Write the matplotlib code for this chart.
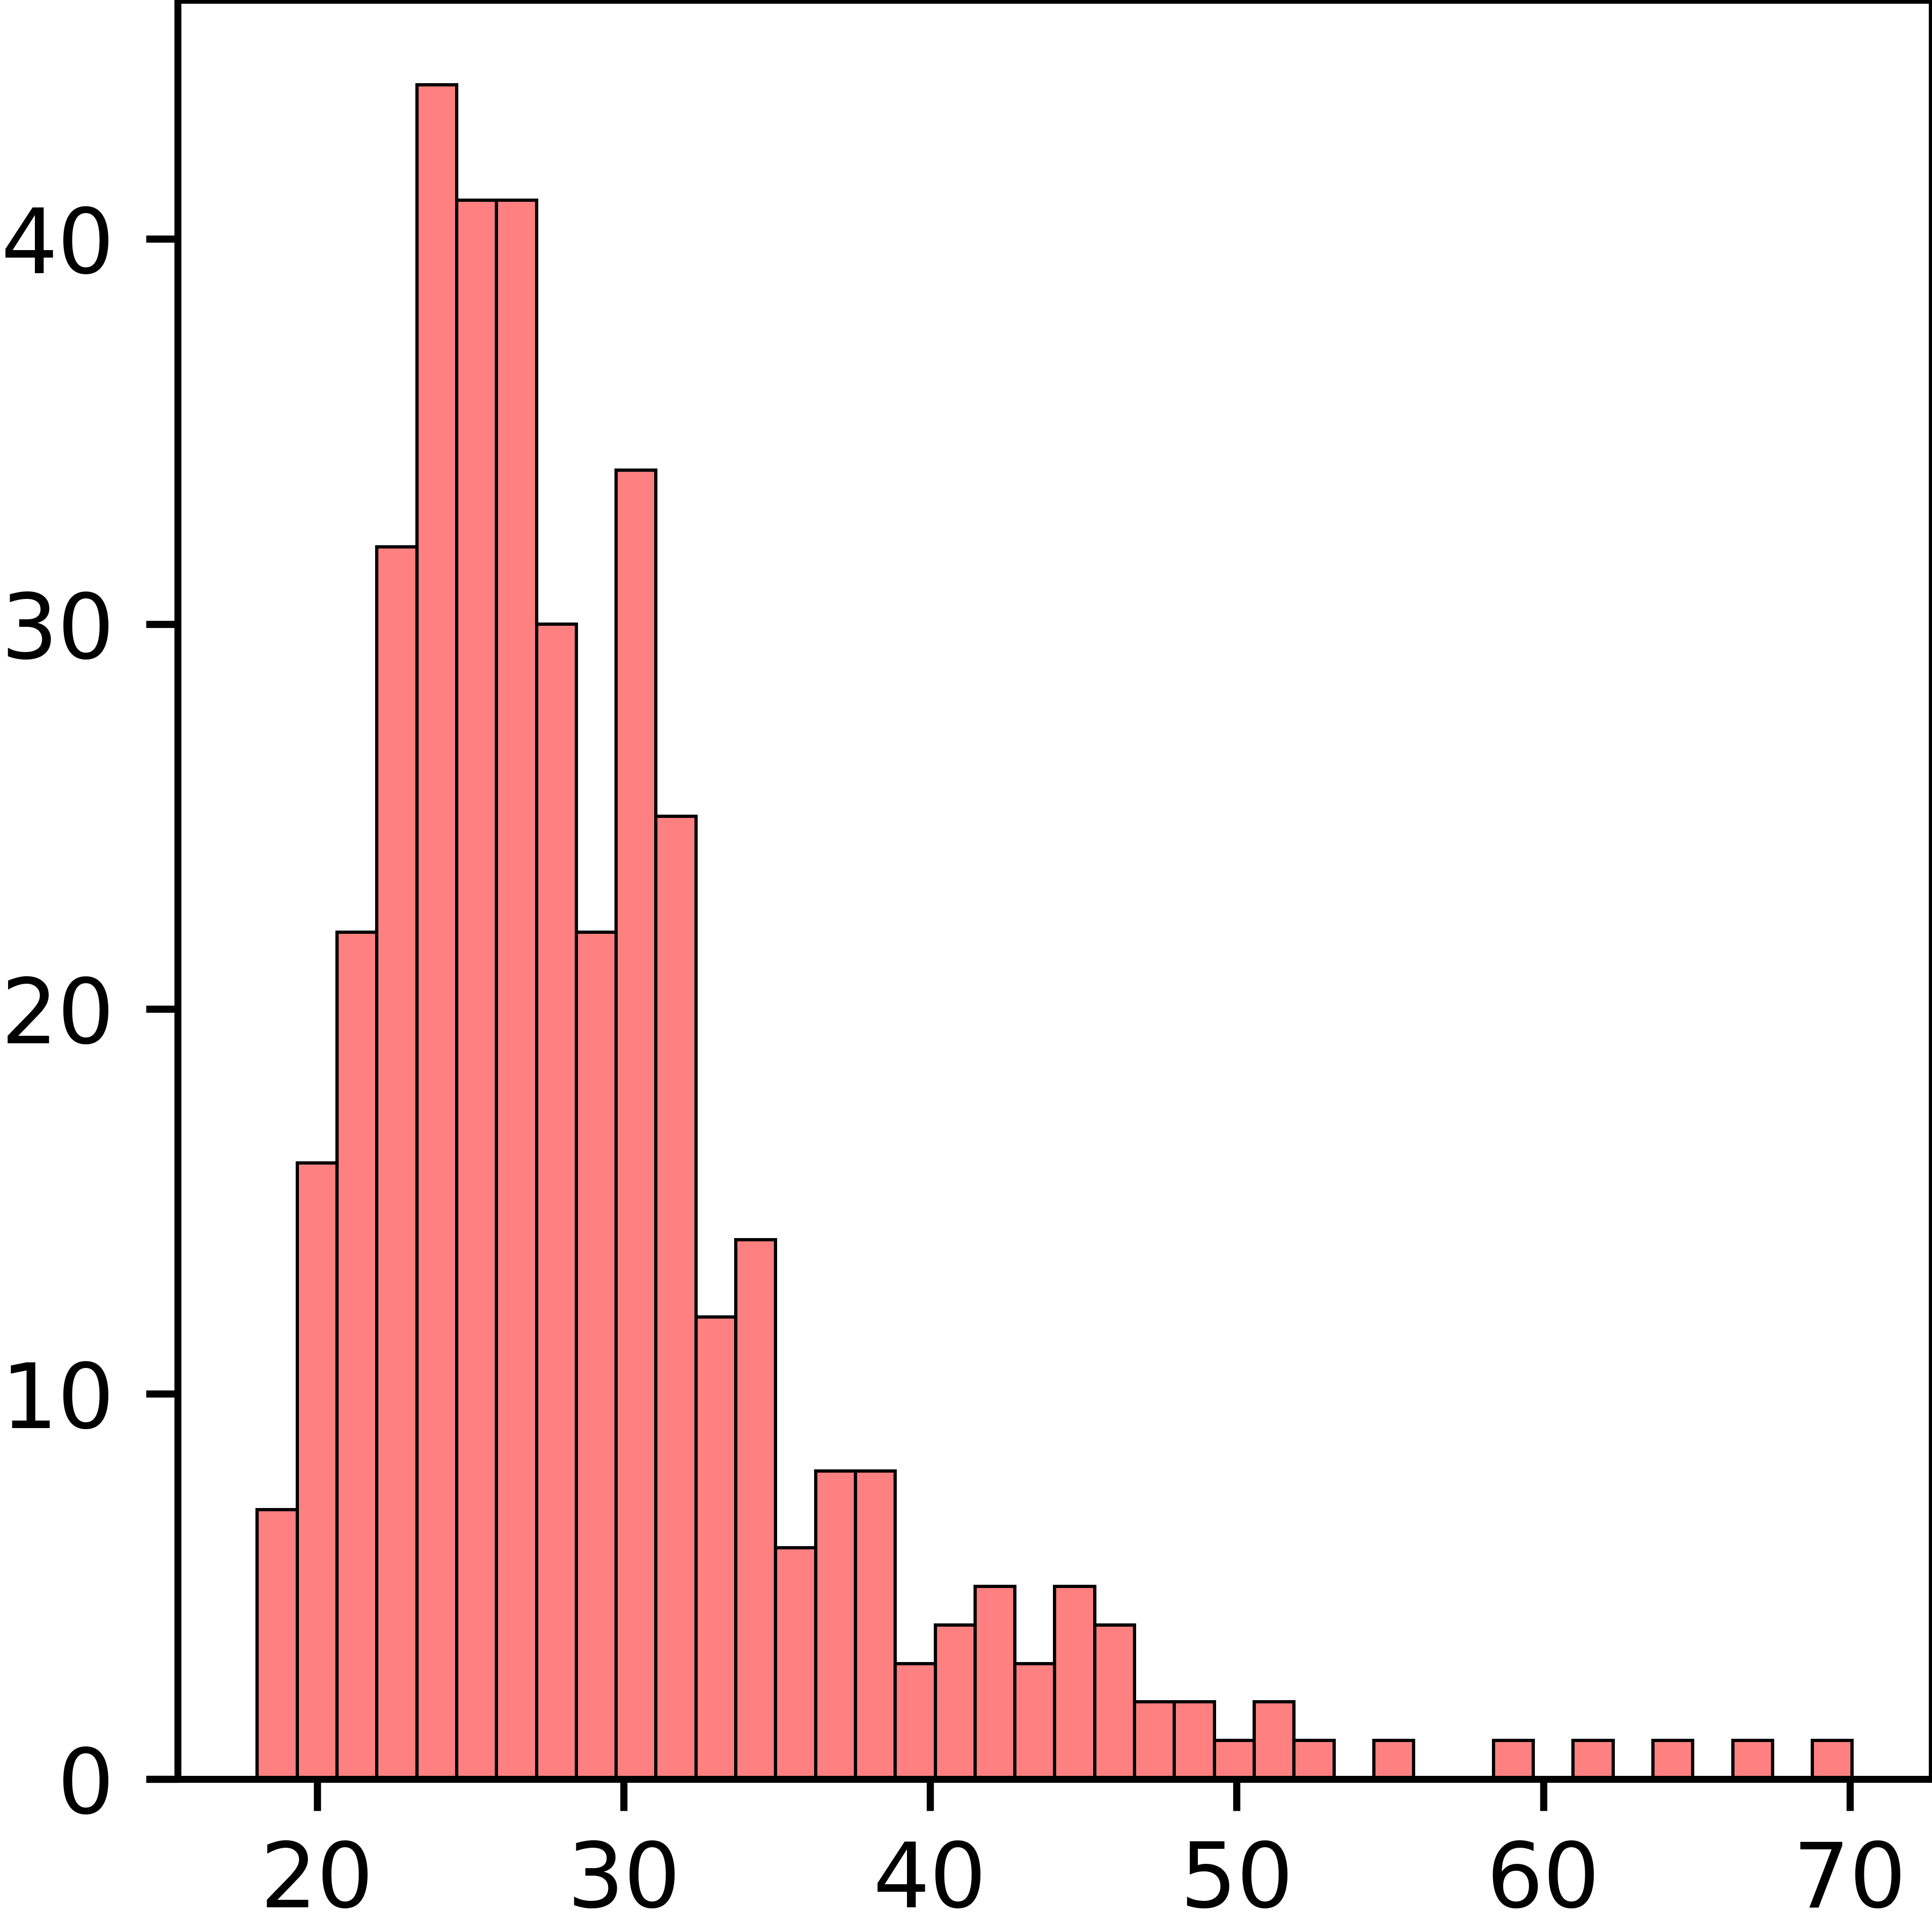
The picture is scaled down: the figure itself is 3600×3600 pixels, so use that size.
import numpy as np
import matplotlib
matplotlib.use("Agg")
import matplotlib.pyplot as plt

# histogram counts, 40 equal bins from about 18 to 70
bin_lo = 18.05
bin_hi = 70.08
counts = [7, 16, 22, 32, 44, 41, 41, 30, 22, 34,
          25, 12, 14, 6, 8, 8, 3, 4, 5, 3,
          5, 4, 2, 2, 1, 2, 1, 0, 1, 0,
          0, 1, 0, 1, 0, 1, 0, 1, 0, 1]
xticks = [20, 30, 40, 50, 60, 70]
yticks = [0, 10, 20, 30, 40]

edges = np.linspace(bin_lo, bin_hi, len(counts) + 1)
centers = (edges[:-1] + edges[1:]) / 2

fig = plt.figure(figsize=(12, 12), dpi=300)
ax = fig.add_axes([0.0919, 0.0792, 0.9081, 0.9207])

ax.hist(centers, bins=edges, weights=counts, facecolor='#ff8080',
        edgecolor='black', linewidth=1.45)

ax.set_xticks(xticks)
ax.set_yticks(yticks)
ax.tick_params(axis='both', direction='out', length=14.2, width=3.2,
               labelsize=40)
ax.tick_params(axis='x', pad=12.5)
ax.tick_params(axis='y', pad=14)
for s in ax.spines.values():
    s.set_linewidth(3.1)

fig.savefig("out.png", dpi=300)
